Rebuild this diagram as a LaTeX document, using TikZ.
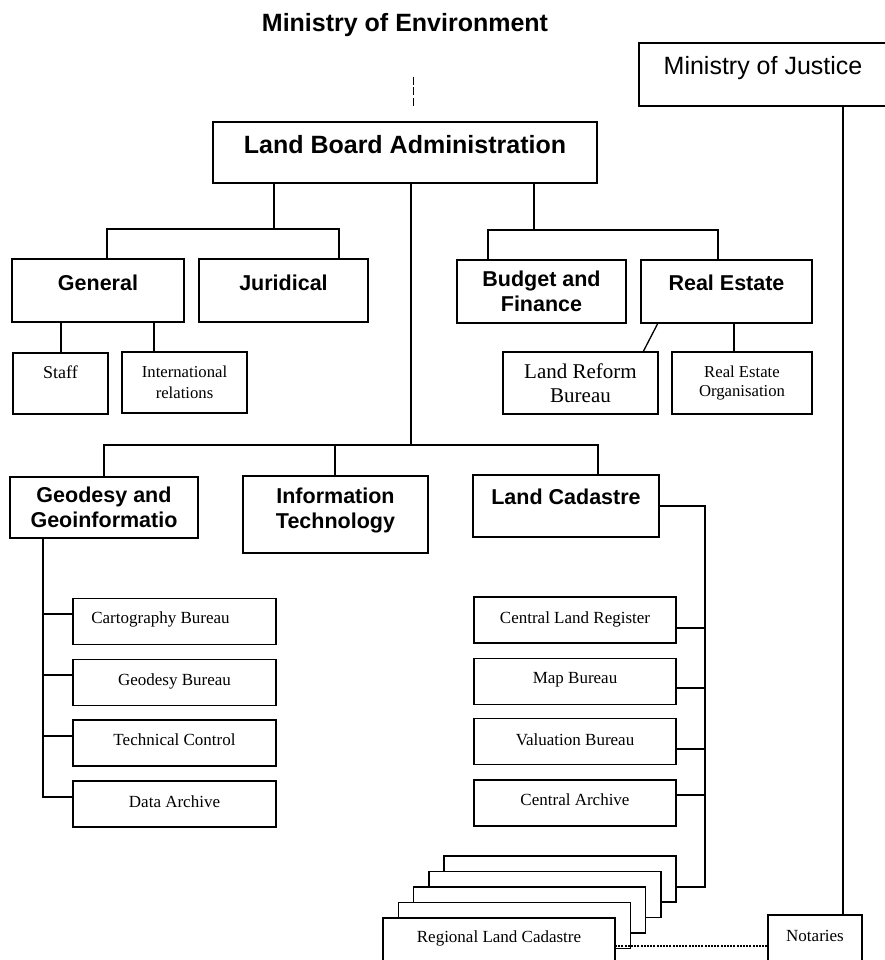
\documentclass[tikz,border=0pt]{standalone}
\usepackage{fontspec}
\setmainfont{Liberation Serif}
\newfontfamily\hdfont{Liberation Sans}
\begin{document}
\begin{tikzpicture}[x=1pt,y=-1pt]
\tikzset{
  box/.style={draw, rectangle, line width=1.5pt, inner sep=0pt, outer sep=0pt, fill=white},
  big/.style={font=\hdfont\bfseries\fontsize{25}{28}\selectfont},
  head/.style={font=\hdfont\bfseries\fontsize{21.5}{24.5}\selectfont},
  sub/.style={font=\fontsize{17}{20}\selectfont},
  link/.style={line width=1.3pt},
  trunk/.style={line width=1.8pt},
  dotline/.style={line width=1.1pt, dash pattern=on 2pt off 1.2pt},
  % baseline offset (downwards) of a single text line from the box centre
  bl/.code={\pgfmathsetmacro\blh{12+(#1)}\pgfmathsetmacro\bld{12-(#1)}%
    \edef\blset{\noexpand\tikzset{text height=\blh pt,text depth=\bld pt}}\blset},
}
\useasboundingbox (0,0) rectangle (885,960);
\fill[white] (0,0) rectangle (885,960);

% ---- top level ----
\node[big, anchor=base] (moe) at (405,32) {Ministry of Environment};
\node[box, font=\hdfont\fontsize{25}{28}\selectfont, minimum width=248, minimum height=63, bl=0.5] (moj) at (763,74.5) {Ministry of Justice};
\node[box, big, minimum width=384, minimum height=61, bl=1.5] (lba) at (405,152.5) {Land Board Administration};

% ---- departments ----
\node[box, head, minimum width=172, minimum height=63, bl=-0.5] (gen) at (98,290.5) {General};
\node[box, head, minimum width=169, minimum height=63, bl=-0.5] (jur) at (283.5,290.5) {Juridical};
\node[box, head, align=center, minimum width=169, minimum height=63] (bud) at (541.5,291.5) {Budget and\\Finance};
\node[box, head, minimum width=171, minimum height=63, bl=-1.5] (rest) at (726.5,291.5) {Real Estate};

\node[box, font=\fontsize{18}{21}\selectfont, minimum width=95, minimum height=61, bl=-5.5] (staff) at (60.5,383.5) {Staff};
\node[box, font=\fontsize{16.7}{21}\selectfont, align=center, minimum width=125, minimum height=61] (intl) at (184.5,382.5) {International\\relations};
\node[box, font=\fontsize{21}{23.5}\selectfont, align=center, minimum width=155, minimum height=62] (lrb) at (580.5,383) {Land Reform\\Bureau};
\node[box, font=\fontsize{16.7}{19.5}\selectfont, align=center, minimum width=140, minimum height=62] (reo) at (742,383) {Real Estate\\Organisation};

\node[box, head, align=center, minimum width=188, minimum height=61] (geo) at (104,507.5) {Geodesy and\\Geoinformatio};
\node[box, head, minimum width=185, minimum height=77] (it) at (335.5,514.5) {\raisebox{3.5pt}[\height][\depth]{\begin{tabular}{@{}c@{}}Information\\Technology\end{tabular}}};
\node[box, head, minimum width=186, minimum height=62, bl=-2] (cad) at (566,506) {Land Cadastre};

% ---- bureaus under geodesy ----
\node[box, sub, minimum width=203, minimum height=46, bl=1.5] (cart) at (174.5,621.5) {\kern-28pt Cartography Bureau};
\node[box, sub, minimum width=203, minimum height=46, bl=2.5] (geob) at (174.5,682.5) {Geodesy Bureau};
\node[box, sub, minimum width=203, minimum height=46, bl=2] (tech) at (174.5,743) {Technical Control};
\node[box, sub, minimum width=203, minimum height=46, bl=3] (darch) at (174.5,804) {Data Archive};

% ---- bureaus under land cadastre ----
\node[box, sub, minimum width=202, minimum height=46, bl=3] (clr) at (575,620) {Central Land Register};
\node[box, sub, minimum width=202, minimum height=46, bl=1.5] (map) at (575,681.5) {Map Bureau};
\node[box, sub, minimum width=202, minimum height=46, bl=3.5] (val) at (575,741.5) {Valuation Bureau};
\node[box, sub, minimum width=202, minimum height=46, bl=2] (car) at (575,803) {Central Archive};

% ---- stacked regional offices ----
\node[box, minimum width=232, minimum height=46] (reg1) at (560,879) {};
\node[box, minimum width=232, minimum height=46] (reg2) at (544.75,894.5) {};
\node[box, minimum width=232, minimum height=46] (reg3) at (529.5,910) {};
\node[box, minimum width=232, minimum height=46] (reg4) at (514.25,925.5) {};
\node[box, sub, minimum width=232, minimum height=46, bl=1] (reg5) at (499,941) {Regional Land Cadastre};
\node[box, sub, minimum width=94, minimum height=47, bl=2.5] (not) at (815,938.5) {Notaries};

% ---- connectors ----
\coordinate (dA) at (413,77);
\coordinate (dB) at (413,107);
\draw[link, line width=1pt, dash pattern=on 8pt off 2.5pt] (dA) -- (dB);

\coordinate (gJ) at (274,229);
\coordinate (gL) at (107,229);
\coordinate (gR) at (339,229);
\draw[trunk] (lba.south -| gJ) -- (gJ);
\draw[link] (gen.north -| gL) -- (gL) -- (gR) -- (jur.north -| gR);

\coordinate (bJ) at (534,230);
\coordinate (bL) at (488,230);
\coordinate (bR) at (718,230);
\draw[link] (lba.south -| bJ) -- (bJ);
\draw[link] (bud.north -| bL) -- (bL) -- (bR) -- (rest.north -| bR);

\coordinate (sA) at (61,340);
\coordinate (sB) at (154,340);
\draw[link] (gen.south -| sA) -- (staff.north -| sA);
\draw[link] (gen.south -| sB) -- (intl.north -| sB);

\draw[link] ([xshift=17pt]rest.south west) -- ([xshift=-15pt]lrb.north east);
\coordinate (rB) at (734,340);
\draw[trunk] (rest.south -| rB) -- (reo.north -| rB);

\coordinate (sJ) at (411,445);
\coordinate (sL) at (104,445);
\coordinate (sM) at (335,445);
\coordinate (sR) at (598,445);
\draw[trunk] (lba.south -| sJ) -- (sJ);
\draw[link] (geo.north -| sL) -- (sL) -- (sR) -- (cad.north -| sR);
\draw[link] (sM) -- (it.north -| sM);

\coordinate (gS) at (43,797);
\coordinate (g1) at (43,614);
\coordinate (g2) at (43,675);
\coordinate (g3) at (43,736);
\draw[link] (geo.south -| gS) -- (gS) -- (darch.west |- gS);
\draw[link] (g1) -- (cart.west |- g1);
\draw[trunk] (g2) -- (geob.west |- g2);
\draw[trunk] (g3) -- (tech.west |- g3);

\coordinate (cS) at (705,887);
\coordinate (k1) at (705,628);
\coordinate (k2) at (705,688);
\coordinate (k3) at (705,749);
\coordinate (k4) at (705,795);
\draw[link] (cad.east) -- (cad.east -| cS) -- (cS) -- (reg1.east |- cS);
\draw[link] (k1) -- (clr.east |- k1);
\draw[link] (k2) -- (map.east |- k2);
\draw[trunk] (k3) -- (val.east |- k3);
\draw[link] (k4) -- (car.east |- k4);

\coordinate (mX) at (843,500);
\draw[link] (moj.south -| mX) -- (not.north -| mX);

\coordinate (dl) at (700,946);
\draw[dotline] (reg5.east |- dl) -- (not.west |- dl);
\end{tikzpicture}
\end{document}
